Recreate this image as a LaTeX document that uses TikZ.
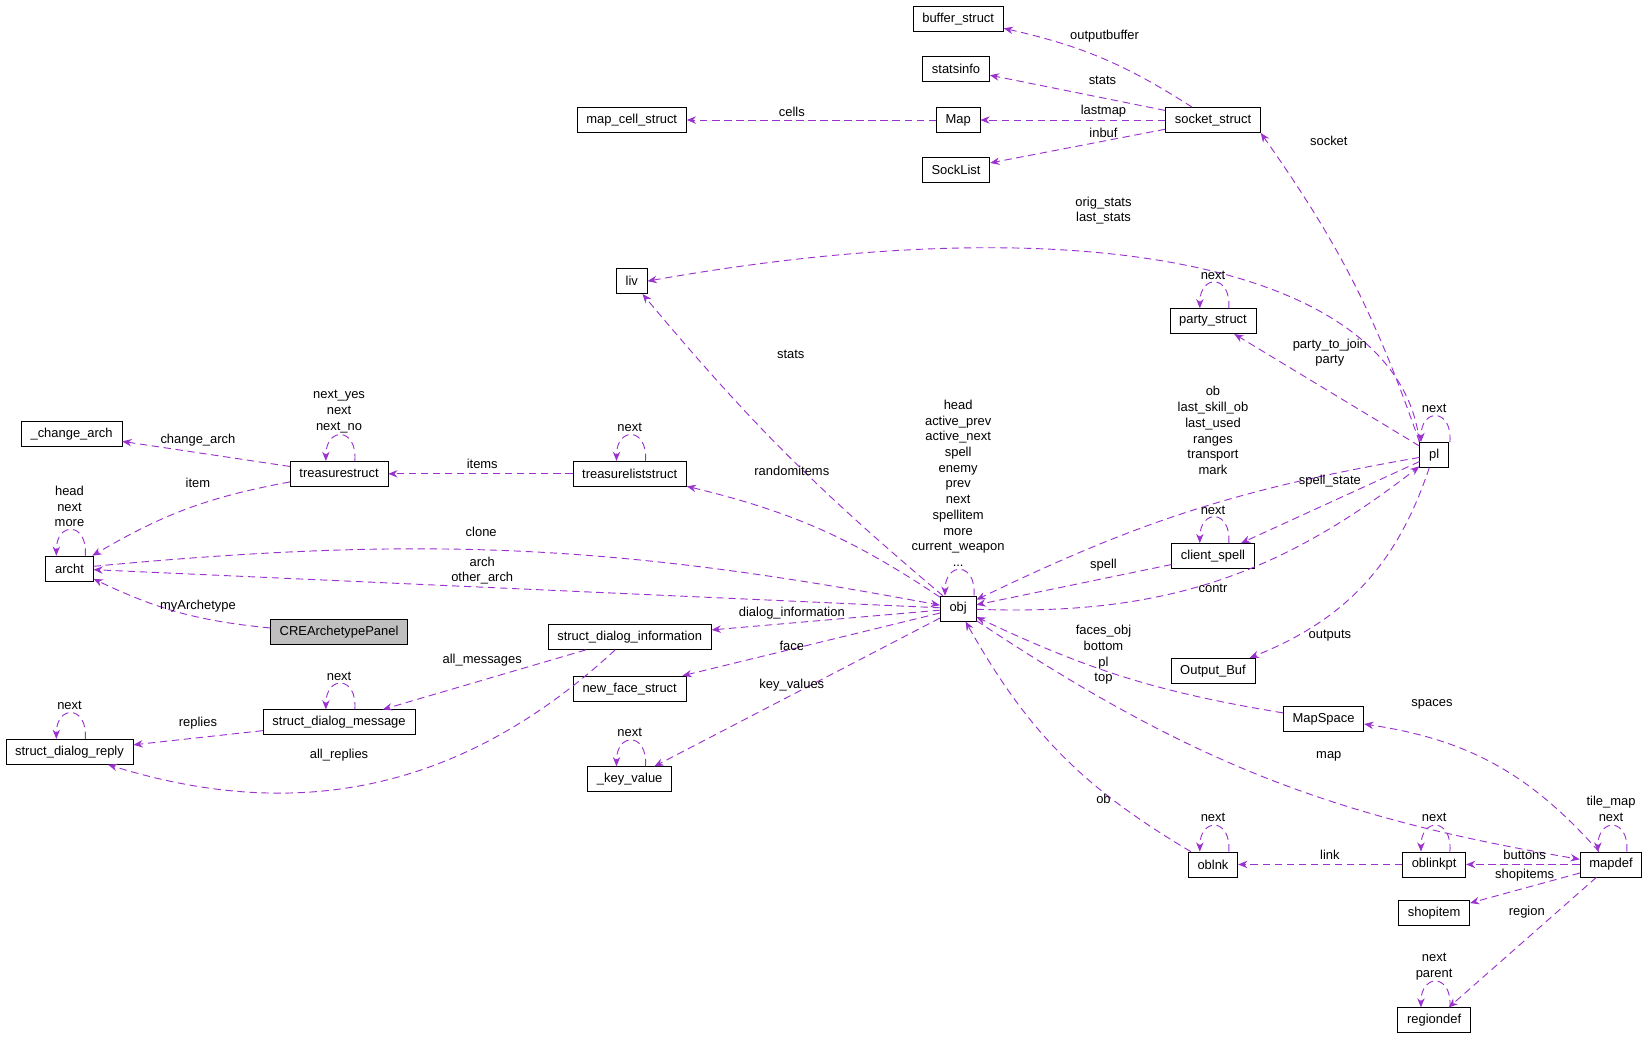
\documentclass[tikz,border=0pt]{standalone}
\usepackage{fontspec}
\setmainfont{Liberation Sans}
\usetikzlibrary{arrows.meta}
\definecolor{edgecol}{HTML}{9A32CD}
\tikzset{
  box/.style={rectangle, draw=black, fill=white, font=\fontsize{7}{8}\selectfont, minimum height=13.5pt, inner xsep=5pt, inner ysep=1pt},
  boxMain/.style={box, fill=black!25},
  edge/.style={draw=edgecol, dashed, dash pattern=on 4pt off 2.5pt, line width=0.5pt, -{Stealth[length=5pt,width=4pt]}},
  lbl/.style={font=\fontsize{7}{8.5}\selectfont, align=center, inner sep=0pt}
}
\newcommand{\selfloop}[1]{\draw[edge] ([xshift=0.3cm]#1.north) .. controls +(0.05cm,0.65cm) and +(0cm,0.65cm) .. ([xshift=-0.25cm]#1.north);}
\begin{document}
\begin{tikzpicture}[x=0.02cm, y=-0.02cm]
\path[use as bounding box, fill=white] (0,0) rectangle (1568,987);

% nodes
\node (buffer) [box] at (910,18) {buffer\_struct};
\node (statsinfo) [box] at (908,65) {statsinfo};
\node (mapcell) [box] at (600,114) {map\_cell\_struct};
\node (map) [box] at (910,114) {Map};
\node (socket) [box] at (1152,114) {socket\_struct};
\node (socklist) [box] at (908,161) {SockList};
\node (liv) [box] at (600,267) {liv};
\node (party) [box] at (1152,305) {party\_struct};
\node (pl) [box] at (1362,432) {pl};
\node (changearch) [box] at (68,412) {\_change\_arch};
\node (treasure) [box] at (322,450) {treasurestruct};
\node (treasurelist) [box] at (598,450) {treasureliststruct};
\node (archt) [box] at (66,540) {archt};
\node (obj) [box] at (910,578) {obj};
\node (clientspell) [box] at (1152,528) {client\_spell};
\node (panel) [boxMain] at (322,600) {CREArchetypePanel};
\node (dialoginfo) [box] at (598,605) {struct\_dialog\_information};
\node (outputbuf) [box] at (1152,637) {Output\_Buf};
\node (newface) [box] at (598,654) {new\_face\_struct};
\node (dialogmsg) [box] at (322,686) {struct\_dialog\_message};
\node (mapspace) [box] at (1257,683) {MapSpace};
\node (dialogreply) [box] at (66,714) {struct\_dialog\_reply};
\node (keyvalue) [box] at (598,740) {\_key\_value};
\node (oblnk) [box] at (1152,821) {oblnk};
\node (oblinkpt) [box] at (1362,821) {oblinkpt};
\node (mapdef) [box] at (1530,821) {mapdef};
\node (shopitem) [box] at (1362,867) {shopitem};
\node (regiondef) [box] at (1362,969) {regiondef};

% connectors
\draw[edge] (socket) to[bend right=10] (buffer);
\draw[edge] (socket) -- (statsinfo);
\draw[edge] (socket) -- (map);
\draw[edge] (socket) -- (socklist);
\draw[edge] (map) -- (mapcell);
\draw[edge] (pl.north west) to[bend right=8] (socket.south east);
\draw[edge] (pl.north west) .. controls (1330,260) and (1050,190) .. (liv.east);
\draw[edge] (pl) -- (party);
\draw[edge] (pl) to[bend right=8] (obj);
\draw[edge] (pl) -- (clientspell);
\draw[edge] (clientspell) -- (obj);
\draw[edge] (obj) to[bend right=20] (pl);
\draw[edge] (pl) to[bend left=25] (outputbuf);
\draw[edge] (obj) to[bend left=5] (liv);
\draw[edge] (obj) to[bend right=10] (treasurelist);
\draw[edge] (treasurelist) -- (treasure);
\draw[edge] (treasure) -- (changearch);
\draw[edge] (treasure) to[bend right=10] (archt);
\draw[edge] (archt) to[bend left=8] (obj);
\draw[edge] (obj) -- (archt);
\draw[edge] (panel) to[bend left=10] (archt);
\draw[edge] (obj) -- (dialoginfo);
\draw[edge] (dialoginfo) -- (dialogmsg);
\draw[edge] (dialoginfo) to[bend left=30] (dialogreply);
\draw[edge] (dialogmsg) -- (dialogreply);
\draw[edge] (obj) -- (newface);
\draw[edge] (obj) -- (keyvalue);
\draw[edge] (mapspace) to[bend left=8] (obj);
\draw[edge] (mapdef) to[bend right=20] (mapspace);
\draw[edge] (obj) to[bend right=12] (mapdef);
\draw[edge] (oblnk) to[bend left=15] (obj);
\draw[edge] (oblinkpt) -- (oblnk);
\draw[edge] (mapdef) -- (oblinkpt);
\draw[edge] (mapdef) -- (shopitem);
\draw[edge] (mapdef) -- (regiondef);
\selfloop{party}
\selfloop{pl}
\selfloop{clientspell}
\selfloop{obj}
\selfloop{treasurelist}
\selfloop{treasure}
\selfloop{archt}
\selfloop{dialogmsg}
\selfloop{dialogreply}
\selfloop{keyvalue}
\selfloop{mapdef}
\selfloop{oblnk}
\selfloop{oblinkpt}
\selfloop{regiondef}

% labels
\node (lOutbuf) [lbl] at (1049,34) {outputbuffer};
\node (lStats) [lbl] at (1047,76) {stats};
\node (lLastmap) [lbl] at (1048,106) {lastmap};
\node (lInbuf) [lbl] at (1048,126) {inbuf};
\node (lCells) [lbl] at (752,106) {cells};
\node (lSocket) [lbl] at (1262,134) {socket};
\node (lOrig) [lbl] at (1048,200) {orig\_stats\\last\_stats};
\node (lPartyNext) [lbl] at (1152,262) {next};
\node (lParty) [lbl] at (1263,335) {party\_to\_join\\party};
\node (lPlNext) [lbl] at (1362,388) {next};
\node (lOb) [lbl] at (1152,409) {ob\\last\_skill\_ob\\last\_used\\ranges\\transport\\mark};
\node (lSpellState) [lbl] at (1263,457) {spell\_state};
\node (lClientNext) [lbl] at (1152,485) {next};
\node (lSpell) [lbl] at (1048,537) {spell};
\node (lContr) [lbl] at (1152,559) {contr};
\node (lOutputs) [lbl] at (1263,604) {outputs};
\node (lLivStats) [lbl] at (751,337) {stats};
\node (lObjSelf) [lbl] at (910,459) {head\\active\_prev\\active\_next\\spell\\enemy\\prev\\next\\spellitem\\more\\current\_weapon\\...};
\node (lRandom) [lbl] at (752,447) {randomitems};
\node (lTlNext) [lbl] at (598,406) {next};
\node (lItems) [lbl] at (458,441) {items};
\node (lTrNext) [lbl] at (322,391) {next\_yes\\next\\next\_no};
\node (lChange) [lbl] at (188,418) {change\_arch};
\node (lItem) [lbl] at (188,459) {item};
\node (lArchSelf) [lbl] at (66,481) {head\\next\\more};
\node (lClone) [lbl] at (457,505) {clone};
\node (lArch) [lbl] at (458,542) {arch\\other\_arch};
\node (lMyArch) [lbl] at (188,576) {myArchetype};
\node (lDialogInfo) [lbl] at (752,582) {dialog\_information};
\node (lAllMsg) [lbl] at (458,627) {all\_messages};
\node (lAllRep) [lbl] at (322,717) {all\_replies};
\node (lMsgNext) [lbl] at (322,642) {next};
\node (lReplies) [lbl] at (188,687) {replies};
\node (lRepNext) [lbl] at (66,670) {next};
\node (lFace) [lbl] at (752,613) {face};
\node (lKeyValues) [lbl] at (752,651) {key\_values};
\node (lKvNext) [lbl] at (598,696) {next};
\node (lFaces) [lbl] at (1048,622) {faces\_obj\\bottom\\pl\\top};
\node (lSpaces) [lbl] at (1360,669) {spaces};
\node (lMap) [lbl] at (1262,718) {map};
\node (lTile) [lbl] at (1530,768) {tile\_map\\next};
\node (lObOb) [lbl] at (1048,759) {ob};
\node (lOblnkNext) [lbl] at (1152,776) {next};
\node (lLink) [lbl] at (1263,812) {link};
\node (lOblptNext) [lbl] at (1362,776) {next};
\node (lButtons) [lbl] at (1448,812) {buttons};
\node (lShop) [lbl] at (1448,831) {shopitems};
\node (lRegion) [lbl] at (1450,866) {region};
\node (lRegNext) [lbl] at (1362,918) {next\\parent};
\end{tikzpicture}
\end{document}
